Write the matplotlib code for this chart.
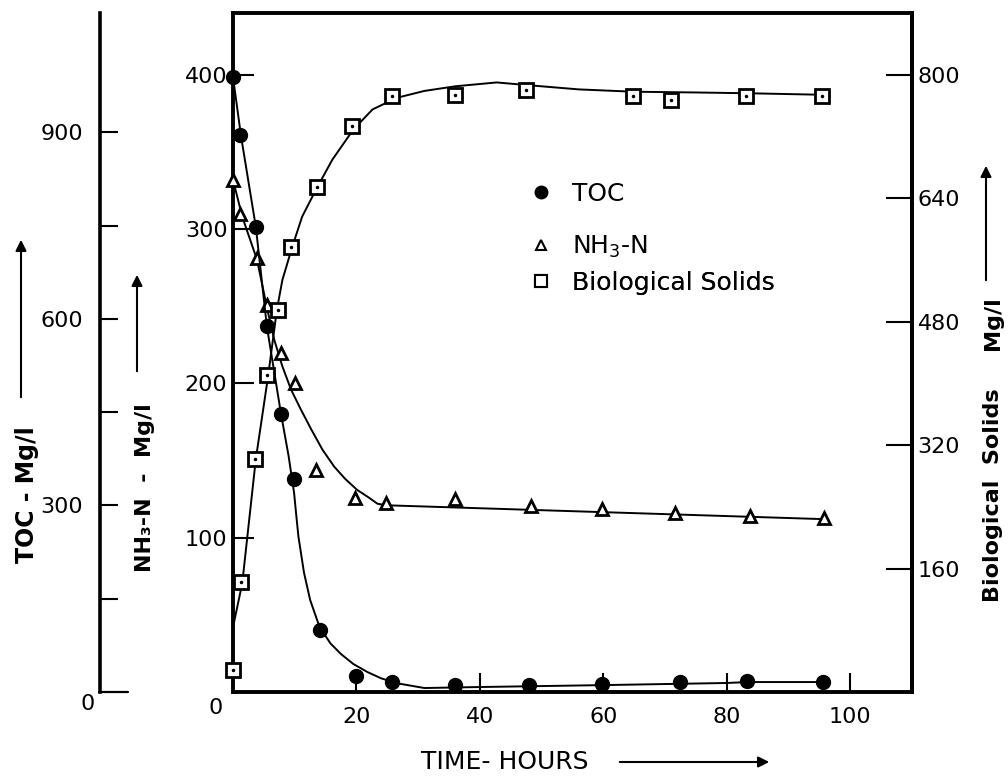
import matplotlib.pyplot as plt

plt.rcParams['font.family'] = 'DejaVu Sans'
plt.rcParams['mathtext.default'] = 'regular'

toc_time = [0, 1.2, 3.7, 5.5, 7.8, 9.9, 14.1, 20, 25.8, 35.9, 47.9, 59.7, 72.4, 83.3, 95.6]
toc_val = [989, 896, 748, 589, 447, 343, 100, 26, 16, 11, 11, 13, 16, 18, 16]

nh3_time = [0, 1.1, 3.9, 5.5, 7.8, 10, 13.5, 19.8, 24.8, 36, 48.2, 59.7, 71.6, 83.8, 95.8]
nh3_val = [332, 310, 281, 251, 220, 200, 144, 126, 122.5, 125, 120.6, 118.6, 116, 114, 112.8]

bio_time = [0, 1.3, 3.6, 5.5, 7.3, 9.4, 13.6, 19.3, 25.8, 35.9, 47.4, 64.8, 71, 83.1, 95.5]
bio_val = [28, 143, 302, 411, 495, 577, 654, 734, 772, 774, 780, 773, 767, 772, 773]

# hand drawn fit curves
toc_fit_t = [0, 1.3, 3.7, 5.5, 7.8, 9.0, 9.9, 10.25, 10.6, 11.5, 12.5, 14, 15.8, 17.5, 19.5,
             21.8, 24, 26.6, 31, 40, 59.4, 80, 83.3, 95.6]
toc_fit = [989, 894, 748, 587, 446, 380, 320, 284, 250, 192, 148, 105, 78, 61, 45,
           32, 22, 14, 6.4, 8, 11, 14.5, 16, 16]

nh3_fit_t = [0, 1.5, 3.9, 5.5, 6.7, 8.0, 9.4, 11.0, 12.7, 14.5, 16.4, 18.2, 20.1, 22.0, 23.4, 24.8, 95.8]
nh3_fit = [332, 308, 280, 249, 228, 211, 196, 183, 170, 157, 146, 138, 131, 126, 122, 121, 112]

bio_fit_t = [0, 1.5, 3.7, 5.7, 7.1, 8, 9.6, 11.2, 13.5, 16.1, 19.5, 22.6, 26.5, 31, 36,
             42.7, 48.5, 56, 64.8, 75, 83.4, 95.6]
bio_fit = [84, 141, 302, 410, 495, 534, 577, 616, 652, 690, 729, 755, 770, 779, 785,
           790, 786, 781, 778, 777, 776, 774]

legend_labels = ['TOC', 'NH$_3$-N', 'Biological Solids']

W, H = 1008, 780
fig = plt.figure(figsize=(W / 100, H / 100), dpi=100)
ax = fig.add_axes([233 / W, 88 / H, 679 / W, 679 / H])
tax = ax.twinx()
bax = ax.twinx()

ax.set_xlim(0, 110)
ax.set_ylim(0, 440)
tax.set_ylim(0, 1092)
bax.set_ylim(0, 880)

lw = 1.4
ax.plot(nh3_fit_t, nh3_fit, color='k', lw=lw)
tax.plot(toc_fit_t, toc_fit, color='k', lw=lw)
bax.plot(bio_fit_t, bio_fit, color='k', lw=lw)

tax.plot(toc_time, toc_val, 'o', color='k', ms=10, clip_on=False, zorder=5)
ax.plot(nh3_time, nh3_val, '^', mfc='white', mec='k', mew=2, ms=9, clip_on=False, zorder=5)
bax.plot(bio_time, bio_val, 's', mfc='white', mec='k', mew=2, ms=10, clip_on=False, zorder=5)
bax.plot(bio_time, bio_val, '.', color='k', ms=3, clip_on=False, zorder=6)

# spines
for s in ['left', 'bottom', 'top', 'right']:
    ax.spines[s].set_linewidth(2.8)
for s in ['right', 'top', 'bottom']:
    tax.spines[s].set_visible(False)
tax.spines['left'].set_visible(True)
tax.spines['left'].set_position(('axes', -133 / 679))
tax.spines['left'].set_linewidth(2.6)
for s in ['left', 'top', 'bottom']:
    bax.spines[s].set_visible(False)
bax.spines['right'].set_linewidth(2.8)

fs = 16
ax.set_xticks([0, 20, 40, 60, 80, 100])
ax.set_xticklabels(['', '20', '40', '60', '80', '100'])
ax.set_yticks([0, 100, 200, 300, 400])
ax.set_yticklabels(['', '100', '200', '300', '400'])
ax.tick_params(axis='x', direction='in', length=14, width=1.5, pad=11, labelsize=fs)
ax.tick_params(axis='y', direction='in', length=15, width=1.5, pad=4, labelsize=fs)

tax.yaxis.tick_left()
tax.set_yticks([300, 600, 900])
tax.set_yticks([150, 450, 750], minor=True)
tax.tick_params(axis='y', which='both', direction='in', length=13, width=1.5, pad=12, labelsize=fs)

bax.set_yticks([160, 320, 480, 640, 800])
bax.tick_params(axis='y', direction='in', length=19, width=1.5, pad=4, labelsize=fs)

# the longer zero tick on the TOC scale, and the zero labels below the corners
ax.annotate('', xy=(128, H - 692), xytext=(99, H - 692), xycoords='figure pixels',
            textcoords='figure pixels', annotation_clip=False,
            arrowprops=dict(arrowstyle='-', color='k', lw=1.6, shrinkA=0, shrinkB=0))
ax.annotate('0', xy=(0, 0), xytext=(-17, -16), textcoords='offset pixels',
            ha='center', va='center', fontsize=fs, annotation_clip=False)
tax.annotate('0', xy=(0, 0), xycoords=('axes fraction', 'data'), xytext=(-145, -12),
             textcoords='offset pixels', ha='center', va='center', fontsize=fs,
             annotation_clip=False)

# legend, one row at a time so the row gaps follow the original
h1, = ax.plot([], [], 'o', color='k', ms=9)
h2, = ax.plot([], [], '^', mfc='white', mec='k', mew=1.5, ms=7)
h3, = ax.plot([], [], 's', mfc='white', mec='k', mew=1.5, ms=8)
row_y = [194, 247, 283]
for h, lab, ry in zip([h1, h2, h3], legend_labels, row_y):
    leg = ax.legend([h], [lab], loc='center left',
                    bbox_to_anchor=((531 - 233) / 679, (692 - ry) / 679), frameon=False,
                    fontsize=18, handlelength=0.8, handletextpad=0.85,
                    borderpad=0, borderaxespad=0)
    ax.add_artist(leg)

# axis titles and arrows (figure pixel positions)
fig.text(27 / W, 1 - 495 / H, 'TOC - Mg/l', rotation=90, ha='center', va='center',
         fontsize=17, fontweight='bold')
fig.text(145 / W, 1 - 488 / H, 'NH\u2083-N  -  Mg/l', rotation=90, ha='center', va='center',
         fontsize=16, fontweight='bold')
fig.text(993 / W, 1 - 495 / H, 'Biological  Solids', rotation=90, ha='center', va='center',
         fontsize=16, fontweight='bold')
fig.text(993 / W, 1 - 323 / H, 'Mg/l', rotation=90, ha='center', va='center',
         fontsize=16, fontweight='bold')
fig.text(505 / W, 1 - 762 / H, 'TIME- HOURS', ha='center', va='center', fontsize=18)

arrows = [((21, 400), (21, 237)), ((137, 374), (137, 272)),
          ((986, 283), (986, 163)), ((617, 762), (772, 762))]
for (x0, y0), (x1, y1) in arrows:
    ax.annotate('', xy=(x1, H - y1), xytext=(x0, H - y0), xycoords='figure pixels',
                textcoords='figure pixels', annotation_clip=False,
                arrowprops=dict(arrowstyle='-|>', color='k', lw=1.5, mutation_scale=16))

fig.savefig('out.png', dpi=100)
